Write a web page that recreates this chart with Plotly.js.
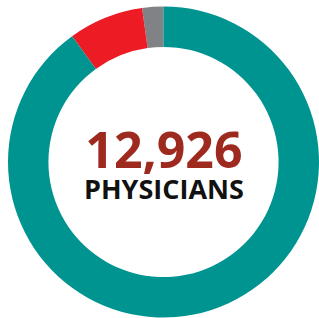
<!DOCTYPE html>
<html>
<head>
<meta charset="utf-8">
<script src="https://cdn.plot.ly/plotly-3.0.1.min.js"></script>
<style>html,body{margin:0;padding:0;background:#fff;}#chart{width:319px;height:318px;}</style>
</head>
<body>
<div id="chart"></div>
<script>
const labels = ["Other", "Group B", "Group A"];
const values = [2.2, 7.8, 90.0];
const colors = ["#808285", "#ED1C24", "#009490"];
const totalText = "12,926";
const subText = "PHYSICIANS";

const data = [{
  type: "pie",
  labels: labels,
  values: values,
  hole: 0.74,
  sort: false,
  direction: "counterclockwise",
  rotation: -7.92,
  textinfo: "none",
  hoverinfo: "label+percent",
  marker: {colors: colors, line: {width: 0}},
  domain: {x: [8/319, 1], y: [0, 312/318]},
  showlegend: false
}];

const layout = {
  width: 319, height: 318,
  margin: {l: 0, r: 0, t: 0, b: 0},
  paper_bgcolor: "#ffffff",
  showlegend: false,
  annotations: [
    {text: "<b><span style='font-size:50px;color:#9E2A1F'>" + totalText + "</span></b><br><b><span style='font-size:27px'>" + subText + "</span></b>",
     x: 164/319, y: 1 - 161/318, xref: "paper", yref: "paper",
     showarrow: false, xanchor: "center", yanchor: "middle", align: "center",
     font: {family: "Open Sans", size: 23.5, color: "#111111"}}
  ]
};

Plotly.newPlot("chart", data, layout, {displayModeBar: false, staticPlot: true});
</script>
</body>
</html>
